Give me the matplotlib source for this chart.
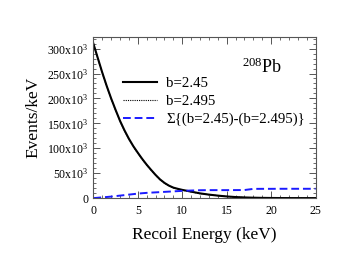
import matplotlib
matplotlib.use("Agg")
import matplotlib.pyplot as plt
from matplotlib.ticker import MultipleLocator, FuncFormatter

plt.rcParams['font.family'] = ['Liberation Serif', 'DejaVu Serif']
plt.rcParams['mathtext.fontset'] = 'custom'
plt.rcParams['mathtext.rm'] = 'Liberation Serif'
plt.rcParams['mathtext.it'] = 'Liberation Serif:italic'

energy = [0, 0.5, 1, 1.5, 2, 2.5, 3, 3.5, 4, 4.5, 5, 5.5, 6, 6.5, 7, 7.5, 8, 8.5, 9, 9.5, 10,
          11, 12, 13, 14, 15, 16, 17, 18, 19, 20, 21, 22, 23, 24, 25]
b245 = [310, 281, 252, 225, 200, 177, 155, 136, 119, 104, 91, 78.5, 67, 56.5, 46.5, 37.5, 30.5, 25, 21, 18.6, 16.5,
        13, 9.5, 7, 5, 3.3, 2.1, 1.3, 0.8, 0.45, 0.25, 0.12, 0.05, 0.02, 0, 0]
b2495 = [310, 280.3, 251.2, 224.3, 199.2, 176, 154, 135, 118, 103, 90, 77.7, 66.3, 56, 46, 37, 30, 24.5, 20.5, 18.1, 16,
         12.3, 8.9, 6.8, 5, 3.3, 2, 1.2, 0.8, 0.45, 0.25, 0.12, 0.05, 0.02, 0, 0]
cumdiff = [0, 0.7, 1.5, 2.2, 3, 4, 5, 6, 7, 8, 9, 9.8, 10.5, 11, 11.5, 12, 12.5, 13, 13.5, 14, 14.5,
           15.2, 15.8, 16, 16, 16, 16.1, 16.2, 18.5, 18.6, 18.6, 18.7, 18.7, 18.7, 18.7, 18.7]
labels = ['b=2.45', 'b=2.495', 'Σ{(b=2.45)-(b=2.495)}']

scale = 1000.0
fig = plt.figure(figsize=(3.55, 2.71), dpi=100)
ax = fig.add_axes([0.263, 0.269, 0.626, 0.594])

ax.plot(energy, [v * scale for v in b245], color='black', lw=1.5, label=labels[0])
ax.plot(energy, [v * scale for v in b2495], color='black', lw=0.8, ls=(0, (1, 1)), label=labels[1])
ax.plot(energy, [v * scale for v in cumdiff], color='#1a1aff', lw=1.4, ls=(0, (4, 2)), label=labels[2])

ax.set_xlim(0, 25)
ax.set_ylim(0, 323000)
ax.xaxis.set_major_locator(MultipleLocator(5))
ax.xaxis.set_minor_locator(MultipleLocator(1))
ax.yaxis.set_major_locator(MultipleLocator(50000))
ax.yaxis.set_minor_locator(MultipleLocator(10000))
ax.yaxis.set_major_formatter(FuncFormatter(lambda v, p: '0' if v == 0 else f'{int(round(v/1000))}x10$^{{3}}$'))

ax.tick_params(which='both', direction='in', top=True, right=True, color='#555555', labelsize=8.5)
ax.tick_params(which='major', length=5, width=0.7)
ax.tick_params(which='minor', length=2.5, width=0.6)
ax.tick_params(axis='x', pad=5)
for s in ax.spines.values():
    s.set_color('#555555')
    s.set_linewidth(0.8)

ax.set_xlabel('Recoil Energy (keV)', fontsize=12.5, labelpad=7.5)
ax.set_ylabel('Events/keV', fontsize=12.5, labelpad=4)

ax.legend(loc='upper left', bbox_to_anchor=(0.134, 0.755), frameon=False, fontsize=10.7,
          handlelength=2.3, handletextpad=0.6, labelspacing=0.32, borderaxespad=0, borderpad=0)

ax.text(0.67, 0.78, '$^{208}$Pb', transform=ax.transAxes, fontsize=13, ha='left', va='baseline')

fig.savefig('out.png', dpi=100)
